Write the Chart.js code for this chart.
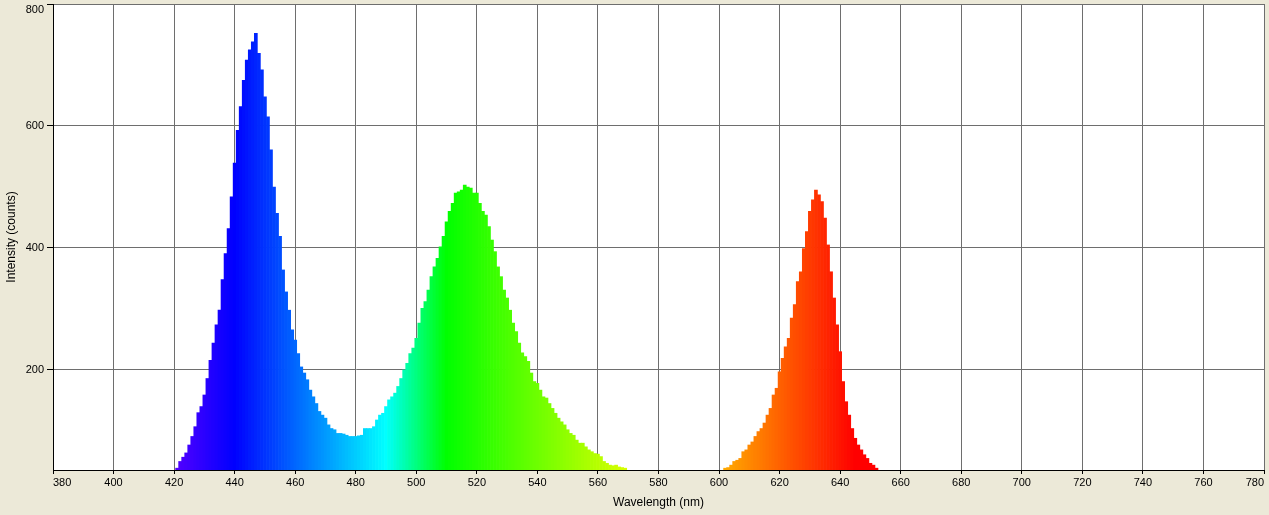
<!DOCTYPE html>
<html>
<head>
<meta charset="utf-8">
<script src="https://cdn.jsdelivr.net/npm/chart.js@4/dist/chart.umd.min.js"></script>
<style>
  html, body { margin: 0; padding: 0; background: #ECE9D8; }
  canvas { display: block; }
</style>
</head>
<body>
<canvas id="spectrum" width="1269" height="515"></canvas>
<script>
// wavelength (nm) of each spectrometer bin
const wavelengths = [
  421,422,423,424,425,426,427,428,429,430,431,432,433,434,435,436,437,438,439,440,
  441,442,443,444,445,446,447,448,449,450,451,452,453,454,455,456,457,458,459,460,
  461,462,463,464,465,466,467,468,469,470,471,472,473,474,475,476,477,478,479,480,
  481,482,483,484,485,486,487,488,489,490,491,492,493,494,495,496,497,498,499,500,
  501,502,503,504,505,506,507,508,509,510,511,512,513,514,515,516,517,518,519,520,
  521,522,523,524,525,526,527,528,529,530,531,532,533,534,535,536,537,538,539,540,
  541,542,543,544,545,546,547,548,549,550,551,552,553,554,555,556,557,558,559,560,
  561,562,563,564,565,566,567,568,569,
  602,603,604,605,606,607,608,609,610,611,612,613,614,615,616,617,618,619,620,
  621,622,623,624,625,626,627,628,629,630,631,632,633,634,635,636,637,638,639,640,
  641,642,643,644,645,646,647,648,649,650,651,652
]

// intensity (counts) per bin
const counts = [
  39,50,57,64,77,91,107,130,140,159,186,216,244,274,298,348,391,432,484,539,
  593,632,675,708,725,738,752,719,692,648,615,561,500,457,419,364,328,298,266,249,
  227,205,195,184,167,156,145,132,126,121,110,104,102,96,96,95,93,91,91,91,
  92,93,104,104,104,107,118,126,129,140,151,156,162,173,186,200,211,227,236,252,
  277,301,312,331,353,369,383,402,419,443,460,473,490,492,495,503,500,498,490,490,
  473,460,454,435,413,394,369,353,331,318,298,277,263,244,228,222,214,195,181,178,
  167,156,154,145,137,129,121,115,110,102,96,93,85,80,80,74,69,66,63,62,
  58,50,47,44,43,44,41,40,39,
  39,40,44,50,52,55,66,69,77,82,91,99,104,113,126,137,159,170,197,
  219,238,252,285,307,345,361,399,427,460,479,495,487,476,449,405,361,318,274,230,
  181,148,126,104,88,77,69,61,55,47,44,39
]

const xTicks = [380,400,420,440,460,480,500,520,540,560,580,600,620,640,660,680,700,720,740,760,780]
const yTicks = [200,400,600,800]

// visible-spectrum colour for a wavelength
function spectralColor(w) {
  let r = 0, g = 0, b = 0
  if (w < 440)      { r = (440 - w) / 60; b = 1 }
  else if (w < 490) { g = (w - 440) / 50; b = 1 }
  else if (w < 510) { g = 1; b = (510 - w) / 20 }
  else if (w < 580) { r = (w - 510) / 70; g = 1 }
  else if (w < 645) { r = 1; g = (645 - w) / 65 }
  else              { r = 1 }
  const c = v => Math.round(Math.max(0, Math.min(1, v)) * 255)
  return `rgb(${c(r)},${c(g)},${c(b)})`
}

Chart.defaults.font.family = "'Liberation Sans', Arial, sans-serif"
Chart.defaults.color = '#000'

// white plot area + keep the end tick labels inside the canvas
const plotBg = {
  id: 'plotBg',
  beforeDraw(chart) {
    const { ctx, chartArea: a } = chart
    ctx.save()
    ctx.fillStyle = '#fff'
    ctx.fillRect(a.left, a.top, a.right - a.left, a.bottom - a.top)
    ctx.restore()

    const xItems = chart.scales.x.getLabelItems()
    if (xItems.length) {
      xItems[0].options.textAlign = 'left'
      xItems[xItems.length - 1].options.textAlign = 'right'
    }
    const yItems = chart.scales.y.getLabelItems()
    const top = yItems.find(it => it.label === '800')
    if (top) top.options.textBaseline = 'top'
  }
}

new Chart(document.getElementById('spectrum'), {
  type: 'bar',
  data: {
    datasets: [{
      data: wavelengths.map((w, i) => ({ x: w, y: counts[i] })),
      backgroundColor: wavelengths.map(spectralColor),
      borderWidth: 0,
      barPercentage: 1,
      categoryPercentage: 1
    }]
  },
  plugins: [plotBg],
  options: {
    responsive: false,
    animation: false,
    layout: { padding: { top: 4, right: 5, left: 0, bottom: 0 } },
    plugins: { legend: { display: false }, tooltip: { enabled: false } },
    scales: {
      x: {
        type: 'linear',
        offset: false,
        min: 380, max: 780,
        afterBuildTicks: s => { s.ticks = xTicks.map(v => ({ value: v })) },
        afterFit: s => { s.height = 45; s.paddingLeft = 0; s.paddingRight = 0 },
        ticks: { font: { size: 11 }, padding: 2, maxRotation: 0, autoSkip: false },
        grid: { color: '#6e6e6e', tickColor: '#000', tickLength: 4, offset: false },
        border: { color: '#000', width: 1 },
        title: { display: true, text: 'Wavelength (nm)', font: { size: 12 }, padding: { top: 0, bottom: 5 } }
      },
      y: {
        min: 36, max: 800,
        afterBuildTicks: s => { s.ticks = yTicks.map(v => ({ value: v })) },
        afterFit: s => { s.width = 53; s.paddingTop = 0; s.paddingBottom = 0 },
        ticks: { font: { size: 11 }, padding: 3 },
        grid: { color: '#6e6e6e', tickColor: '#000', tickLength: 6 },
        border: { color: '#000', width: 1 },
        title: { display: true, text: 'Intensity (counts)', font: { size: 12 }, padding: { top: 4, bottom: 0 } }
      }
    }
  }
})
</script>
</body>
</html>
